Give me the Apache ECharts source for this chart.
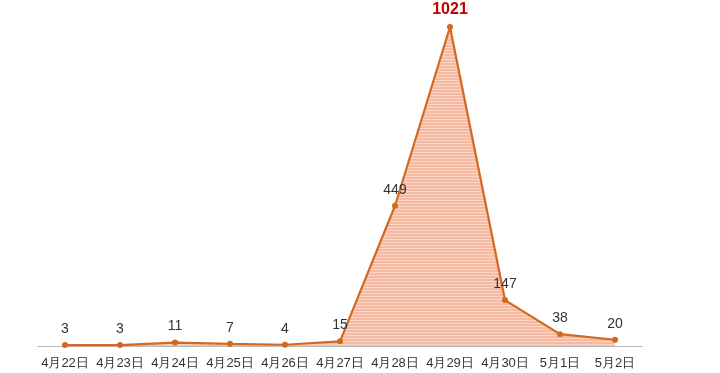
<!DOCTYPE html>
<html><head><meta charset="utf-8">
<script src="https://cdn.jsdelivr.net/npm/echarts@6/dist/echarts.min.js"></script>
<style>html,body{margin:0;padding:0;background:#fff}#c{width:720px;height:373px}</style>
</head><body><div id="c"></div>
<script>
var categories = ['4月22日','4月23日','4月24日','4月25日','4月26日','4月27日','4月28日','4月29日','4月30日','5月1日','5月2日'];
var values = [3, 3, 11, 7, 4, 15, 449, 1021, 147, 38, 20];
var peakIndex = 7;

var pc = document.createElement('canvas');
pc.width = 4; pc.height = 3;
var g = pc.getContext('2d');
g.fillStyle = '#f6b9a2'; g.fillRect(0,0,4,3);
g.fillStyle = '#fbd6c8'; g.fillRect(0,2,4,1);

var data = values.map(function(v,i){
  if (i === peakIndex) return {value:v, label:{color:'#c00000', fontWeight:'bold', fontSize:16}};
  return v;
});

var chart = echarts.init(document.getElementById('c'), null, {renderer:'canvas'});
chart.setOption({
  animation:false,
  grid:{left:37.5, right:77.5, top:27, bottom:27, containLabel:false},
  xAxis:{type:'category', data:categories, boundaryGap:true,
    axisLine:{lineStyle:{color:'#bbbbbb', width:1}}, axisTick:{show:false},
    axisLabel:{color:'#333', fontSize:13, fontFamily:'Liberation Sans, Arial, sans-serif', margin:11, interval:0}},
  yAxis:{type:'value', min:0, max:1021, show:false, splitLine:{show:false}},
  series:[{type:'line', data:data, symbol:'circle', symbolSize:6,
    itemStyle:{color:'#d2691e'}, lineStyle:{color:'#d2691e', width:2.2},
    areaStyle:{color:{image:pc, repeat:'repeat'}, opacity:1},
    label:{show:true, position:'top', distance:6, color:'#333', fontSize:14, fontFamily:'Liberation Sans, Arial, sans-serif'}}]
});
</script></body></html>
